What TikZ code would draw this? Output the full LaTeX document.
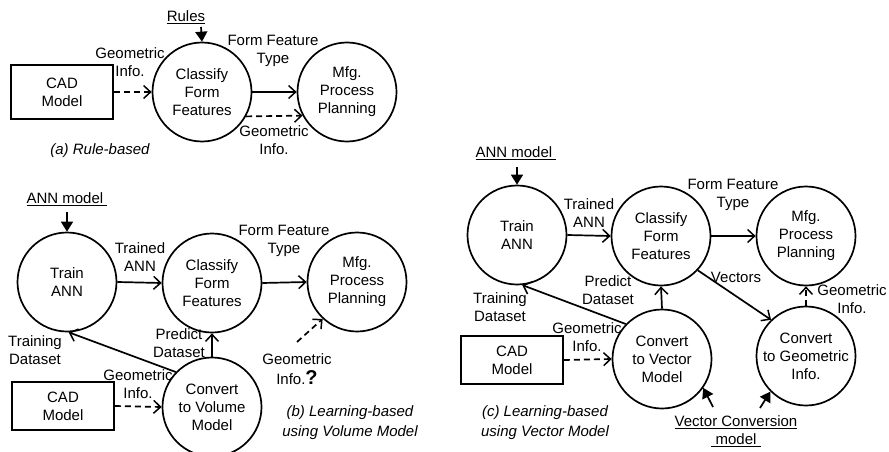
\documentclass[tikz,border=0pt]{standalone}
\usepackage{fontspec}
\setmainfont{Liberation Sans}
\usetikzlibrary{arrows.meta}
\begin{document}
\begin{tikzpicture}[x=1pt,y=-1pt,font=\fontsize{15}{18}\selectfont,
  circ/.style={circle,draw,line width=1.7pt,minimum size=99pt,inner sep=0pt,align=center},
  cadbox/.style={draw,line width=1.7pt,minimum width=102pt,minimum height=48pt,inner sep=0pt,align=center},
  lbl/.style={align=center,inner sep=0pt},
  capt/.style={align=center,inner sep=0pt,font=\fontsize{15}{20}\selectfont\itshape},
  con/.style={line width=1.7pt,-{Straight Barb[length=7pt,width=13pt,line width=1.5pt]}},
  dcon/.style={con,dash pattern=on 6pt off 4pt},
  feed/.style={line width=1.7pt,-{Triangle[length=10pt,width=12pt]}}]
\useasboundingbox (0,0) rectangle (889,452);

% ---------- (a) ----------
\node[cadbox,minimum height=54pt] (cad1) at (62,92) {CAD\\Model};
\node[circ] (cl1) at (202,92) {Classify\\Form\\Features};
\node[circ] (mfg1) at (347,92) {Mfg.\\Process\\Planning};
\node[lbl] (rules) at (186,17) {\underline{Rules}};
\coordinate (rulesarr) at (201,27);
\node[lbl] (ga1) at (130,62) {Geometric\\Info.};
\node[lbl] (ff1) at (273,51) {Form Feature\\Type};
\node[lbl] (gb1) at (274,140) {Geometric\\Info.};
\node[capt] (capa) at (100,151) {(a) Rule-based};
\draw[feed] (rulesarr) -- (cl1.north);
\draw[dcon] (cad1.east) -- (cl1.west);
\draw[con] (cl1.east) -- (mfg1.west);
\draw[dcon] (cl1.-29) -- (mfg1.-152);

% ---------- (b) ----------
\node[lbl] (annb) at (67,199) {\underline{ANN model\ }};
\coordinate (annbarr) at (67,212);
\node[circ] (tr2) at (67,282) {Train\\ANN};
\node[circ] (cl2) at (212,283) {Classify\\Form\\Features};
\node[circ] (mfg2) at (357,282) {Mfg.\\Process\\Planning};
\node[circ] (cv2) at (212,407) {Convert\\to Volume\\Model};
\node[cadbox] (cad2) at (63,406) {CAD\\Model};
\node[lbl] (ta2) at (140,257) {Trained\\ANN};
\node[lbl] (ff2) at (284,241) {Form Feature\\Type};
\node[lbl] (pd2) at (179,343) {Predict\\Dataset};
\node[lbl] (td2) at (35,350) {Training\\Dataset};
\node[lbl] (gi2) at (138,384) {Geometric\\Info.};
\node[lbl] (gq2) at (297,369) {Geometric\\[2pt]Info.{\fontsize{20}{20}\selectfont\bfseries ?}};
\coordinate (gqarr) at (297,342);
\node[capt] (capb) at (350,423) {(b) Learning-based\\using Volume Model};
\draw[feed] (annbarr) -- (tr2.north);
\draw[con] (tr2.east) -- (cl2.west);
\draw[con] (cl2.east) -- (mfg2.west);
\draw[con] (cv2.north) -- (cl2.south);
\draw[con] (cv2.136) -- (tr2.-88);
\draw[dcon] (cad2.east) -- (cv2.west);
\draw[dcon] (gqarr) -- (mfg2.-133);

% ---------- (c) ----------
\node[lbl] (annc) at (516,153) {\underline{ANN model\ }};
\coordinate (anncarr) at (517,167);
\node[circ] (trc) at (517,235) {Train\\ANN};
\node[circ] (clc) at (661,236) {Classify\\Form\\Features};
\node[circ] (mfgc) at (806,236) {Mfg.\\Process\\Planning};
\node[circ] (cvv) at (662,359) {Convert\\to Vector\\Model};
\node[circ] (cvg) at (806,356) {Convert\\to Geometric\\Info.};
\node[cadbox] (cadc) at (512,360) {CAD\\Model};
\node[lbl] (tac) at (589,213) {Trained\\ANN};
\node[lbl] (ffc) at (733,195) {Form Feature\\Type};
\node[lbl] (pdc) at (608,290) {Predict\\Dataset};
\node[lbl] (tdc) at (500,307) {Training\\Dataset};
\node[lbl] (gic) at (587,337) {Geometric\\Info.};
\node[lbl] (vec) at (736,277) {Vectors};
\node[lbl] (gic2) at (852,299) {Geometric\\Info.};
\node[lbl] (vcm) at (736,431) {\underline{Vector Conversion}\\\underline{\ model\ }};
\coordinate (vcm1) at (713,407);
\coordinate (vcm2) at (760,408);
\node[capt] (capc) at (545,423) {(c) Learning-based\\using Vector Model};
\draw[feed] (anncarr) -- (trc.north);
\draw[con] (trc.east) -- (clc.west);
\draw[con] (clc.east) -- (mfgc.west);
\draw[con] (cvv.north) -- (clc.south);
\draw[con] (cvv.136) -- (trc.-84);
\draw[dcon] (cadc.east) -- (cvv.west);
\draw[con] (clc.-43) -- (cvg.134);
\draw[dcon] (cvg.north) -- (mfgc.south);
\draw[feed] (vcm1) -- (cvv.-35);
\draw[feed] (vcm2) -- (cvg.-135);
\end{tikzpicture}
\end{document}
